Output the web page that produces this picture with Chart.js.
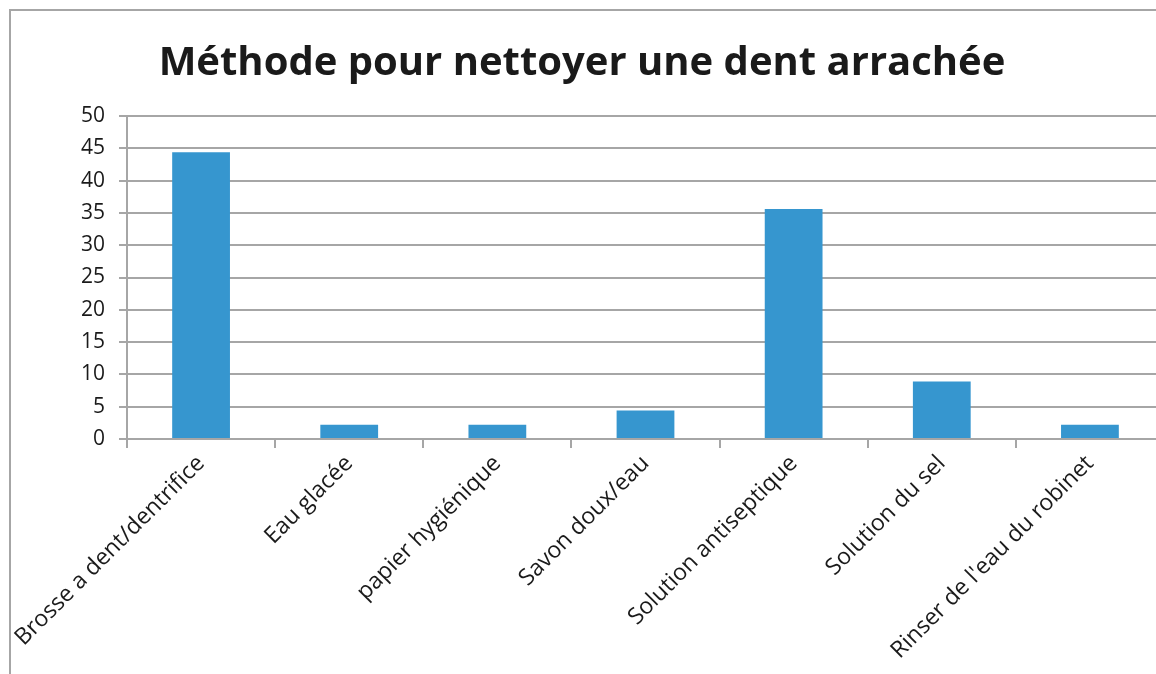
<!DOCTYPE html>
<html>
<head>
<meta charset="utf-8">
<script src="https://cdn.jsdelivr.net/npm/chart.js@4"></script>
<style>
  html, body { margin: 0; padding: 0; background: #fff; overflow: hidden; }
  #wrap { position: relative; width: 1156px; height: 674px; overflow: hidden; }
  #frame { position: absolute; left: 9px; top: 9px; width: 1200px; height: 700px;
           border-left: 2px solid #a6a6a6; border-top: 2px solid #a6a6a6; }
  #box { position: absolute; left: 0; top: 0; width: 1164px; height: 674px; }
</style>
</head>
<body>
<div id="wrap">
  <div id="frame"></div>
  <div id="box"><canvas id="chart"></canvas></div>
</div>
<script>
const titleText = 'Méthode pour nettoyer une dent arrachée';
const categories = ['Brosse a dent/dentrifice', 'Eau glacée', 'papier hygiénique', 'Savon doux/eau',
                    'Solution antiseptique', 'Solution du sel', "Rinser de l'eau du robinet"];
const values = [44.4, 2.2, 2.2, 4.4, 35.6, 8.9, 2.2];
const yMax = 50;
const yStep = 5;

const gridGray = '#a6a6a6';
const barBlue = '#3696cf';

const ctx = document.getElementById('chart').getContext('2d');
new Chart(ctx, {
    type: 'bar',
    data: {
        labels: categories,
        datasets: [{
            data: values,
            backgroundColor: barBlue,
            barPercentage: 0.39,
            categoryPercentage: 1
        }]
    },
    options: {
        responsive: true,
        maintainAspectRatio: false,
        animation: false,
        layout: { padding: { left: 0, right: 0, top: 0, bottom: 0 } },
        plugins: {
            legend: { display: false },
            tooltip: { enabled: false },
            title: {
                display: true,
                text: titleText,
                color: '#1a1a1a',
                font: { family: 'Open Sans', size: 40, weight: 'bold' },
                padding: { top: 40, bottom: 28 }
            }
        },
        scales: {
            x: {
                offset: true,
                grid: {
                    display: true,
                    drawOnChartArea: false,
                    drawTicks: true,
                    tickLength: 9,
                    color: gridGray,
                    lineWidth: 2
                },
                border: { display: true, color: gridGray, width: 2 },
                ticks: {
                    color: '#1a1a1a',
                    font: { family: 'Open Sans', size: 23 },
                    maxRotation: 45,
                    minRotation: 45,
                    autoSkip: false,
                    padding: 2
                },
                afterFit: (s) => { s.height = 235; }
            },
            y: {
                min: 0,
                max: yMax,
                grid: {
                    color: gridGray,
                    lineWidth: 2,
                    tickLength: 8
                },
                border: { display: true, color: gridGray, width: 2 },
                ticks: {
                    stepSize: yStep,
                    color: '#1a1a1a',
                    font: { family: 'Open Sans', size: 21 },
                    padding: 14
                },
                afterFit: (s) => { s.width = 127; }
            }
        }
    }
});
</script>
</body>
</html>
